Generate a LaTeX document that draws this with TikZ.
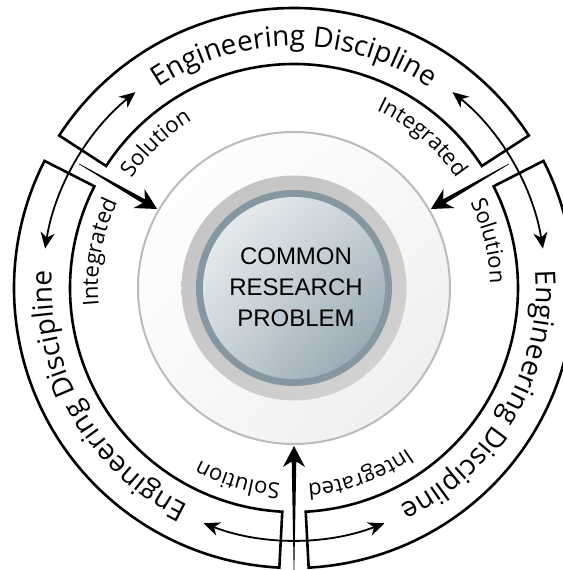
\documentclass[tikz,border=0pt]{standalone}
\usepackage{fontspec}
\setmainfont{Open Sans}
\newfontfamily\probfont{Liberation Sans}
\usepackage{tikz}
\usetikzlibrary{
  calc,
  arrows.meta,
  shadings,
  decorations.text
}
\definecolor{discedge}{HTML}{BBBBBB}
\definecolor{ringgray}{HTML}{C3C3C3}
\definecolor{rimblue}{HTML}{8797A1}

\begin{document}
\begin{tikzpicture}[
      band/.style={draw=black, line width=2.6pt, fill=white},
      bandtext/.style={decorate, decoration={text along path, text align=center,
        text={|\fontsize{28}{28}\selectfont|#1}}},
      ringtext/.style 2 args={decorate, decoration={text along path, text align=#1,
        text={|\fontsize{22}{22}\selectfont|#2}}},
      exchange/.style={line width=1.8pt,
        {Stealth[length=16pt,width=14pt,inset=5pt]}-{Stealth[length=16pt,width=14pt,inset=5pt]}},
      feed/.style={fill=black}
    ]
      \useasboundingbox (-294pt,-282pt) rectangle (268pt,288pt);

      % Bands
      \foreach \c in {90,210,330}{
        \draw[band] (\c-57:224pt) arc[start angle=\c-57, end angle=\c+57, radius=224pt]
          -- (\c+57:280pt) arc[start angle=\c+57, end angle=\c-57, radius=280pt] -- cycle;
        \path[bandtext={Engineering Discipline}] (\c+52:242pt) arc[start angle=\c+52, end angle=\c-52, radius=242pt];
      }

      % Button
      \shadedraw[draw=discedge, line width=2pt, upper left=white, upper right=gray!5,
        lower left=gray!5, lower right=gray!15] (0,0) circle[radius=156pt];
      \shade[upper left=ringgray, upper right=ringgray!90!white, lower left=ringgray!90!white,
        lower right=ringgray!70!white] (0,0) circle[radius=112.5pt];
      \fill[rimblue] (0,0) circle[radius=98pt];
      \shade[upper left={rgb,255:red,240;green,243;blue,245}, upper right={rgb,255:red,200;green,210;blue,216},
        lower left={rgb,255:red,200;green,210;blue,216}, lower right={rgb,255:red,138;green,156;blue,167}]
        (0,0) circle[radius=91pt];
      \node[font=\probfont\fontsize{24}{31}\selectfont, align=center] (problem) at (2pt,1pt) {COMMON\\RESEARCH\\PROBLEM};

      % Junctions
      \foreach \j/\rs in {30/248,150/248,270/283}{
        \path[ringtext={right}{Integrated}] (\j+48:196pt) arc[start angle=\j+48, end angle=\j+4, radius=196pt];
        \path[ringtext={left}{Solution}] (\j-4:196pt) arc[start angle=\j-4, end angle=\j-48, radius=196pt];
        \draw[exchange] (\j-21:252pt) arc[start angle=\j-21, end angle=\j+21, radius=252pt];
        \coordinate (feedS) at (\j:\rs pt);
        \coordinate (feedT) at (\j:158pt);
        \fill[feed] ($(feedS)!0.3pt!90:(feedT)$)
          -- ($(feedT)!15.5pt!(feedS)!2.3pt!-90:(feedS)$)
          -- ($(feedT)!21pt!(feedS)!11pt!-90:(feedS)$)
          -- (feedT)
          -- ($(feedT)!21pt!(feedS)!11pt!90:(feedS)$)
          -- ($(feedT)!15.5pt!(feedS)!2.3pt!90:(feedS)$)
          -- ($(feedS)!0.3pt!-90:(feedT)$) -- cycle;
      }
    \end{tikzpicture}
\end{document}
